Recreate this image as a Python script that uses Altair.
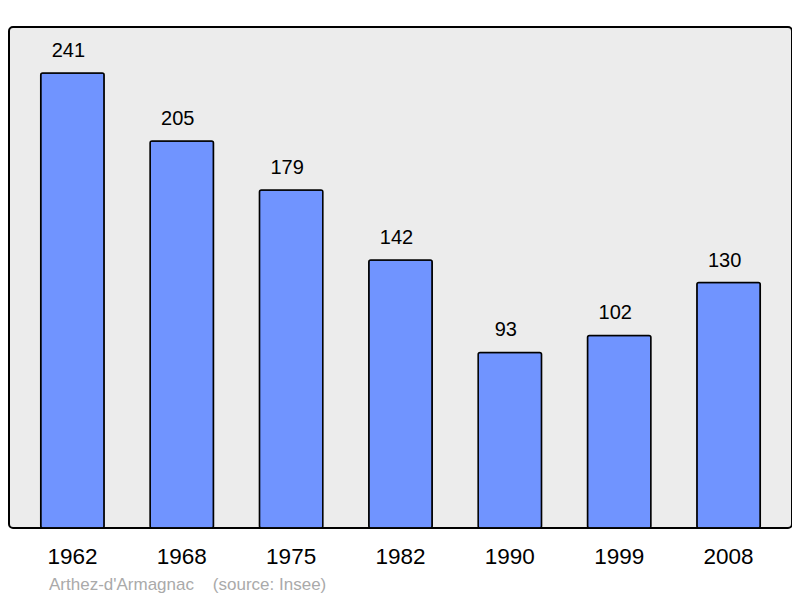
import altair as alt
import pandas as pd

years = ["1962", "1968", "1975", "1982", "1990", "1999", "2008"]
population = [241, 205, 179, 142, 93, 102, 130]
source_note = "Arthez-d'Armagnac\u00a0\u00a0\u00a0\u00a0(source: Insee)"

df = pd.DataFrame({"year": years, "pop": population})

x = alt.X("year:N", sort=years,
          scale=alt.Scale(paddingInner=0.42, paddingOuter=0.29),
          axis=alt.Axis(title=None, labelAngle=0, labelFontSize=22.5, labelColor="#000",
                        labelFont="Liberation Sans", ticks=False, domain=False,
                        labelPadding=28, labelBaseline="middle"))
y = alt.Y("pop:Q", scale=alt.Scale(domain=[0, 265.4], nice=False, zero=True),
          axis=None)

bars = alt.Chart(df).mark_bar(color="#7094ff", stroke="#000", strokeWidth=1.5,
                              cornerRadius=2).encode(x=x, y=y)

labels = alt.Chart(df).mark_text(baseline="bottom", dy=-12, dx=-4, fontSize=20,
                                 font="Liberation Sans", color="#000").encode(
    x=x, y=y, text="pop:Q")

note = alt.Chart(pd.DataFrame({"t": [source_note]})).mark_text(
    align="left", baseline="middle", fontSize=17, font="Liberation Sans",
    color="#aaaaaa").encode(x=alt.value(40), y=alt.value(558), text="t:N")

chart = alt.layer(bars, labels, note).properties(
    width=783, height=501,
    padding={"left": 1, "top": 19, "right": 0, "bottom": 0},
).configure_view(
    fill="#ececec", stroke="#000", strokeWidth=2, cornerRadius=4
)

chart.save("out.html", embed_options={"renderer": "svg", "actions": False})
